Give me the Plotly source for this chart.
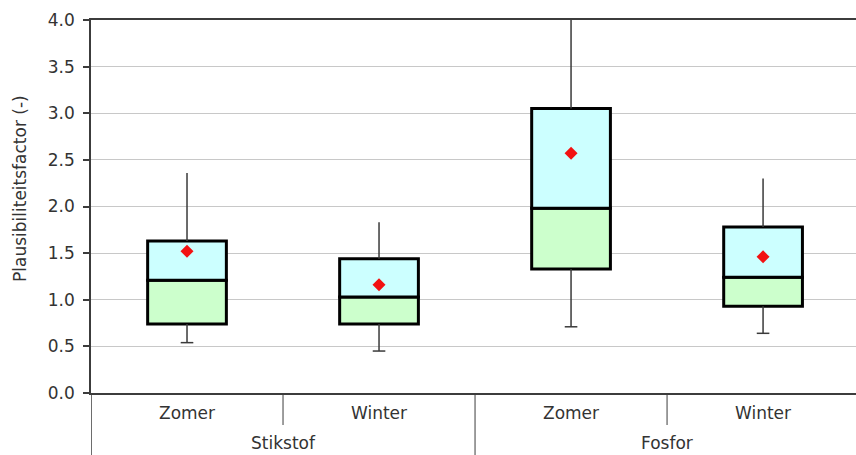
import plotly.graph_objects as go

# Box statistics per nutrient / season
groups = ["Stikstof", "Stikstof", "Fosfor", "Fosfor"]
seasons = ["Zomer", "Winter", "Zomer", "Winter"]
lower = [0.54, 0.45, 0.71, 0.64]
q1 = [0.74, 0.74, 1.33, 0.93]
median = [1.21, 1.03, 1.98, 1.24]
q3 = [1.63, 1.44, 3.05, 1.78]
upper = [2.36, 1.83, 4.00, 2.30]
mean = [1.52, 1.16, 2.57, 1.46]

group_names = ["Stikstof", "Fosfor"]
y_ticks = [0.0, 0.5, 1.0, 1.5, 2.0, 2.5, 3.0, 3.5, 4.0]

FONT = "DejaVu Sans, Verdana, sans-serif"
FS = 17
TEXT = "#333333"
AXIS = "#3c3c3c"
WHISK = "#3a3a3a"

x_cat = [groups, seasons]
box_w = 0.41
PLOT_H = 373  # plot area height in px, used to place things below the axis

fig = go.Figure()

# lower half of the box: Q1 .. median
fig.add_trace(go.Bar(
    x=x_cat, base=q1, y=[m - a for m, a in zip(median, q1)],
    width=box_w, marker=dict(color="#ccffcc", line=dict(color="black", width=3)),
    showlegend=False, hoverinfo="skip",
))
# upper half of the box: median .. Q3
fig.add_trace(go.Bar(
    x=x_cat, base=median, y=[b - m for b, m in zip(q3, median)],
    width=box_w, marker=dict(color="#ccffff", line=dict(color="black", width=3)),
    showlegend=False, hoverinfo="skip",
))

# whiskers
for g, s, lo, a, b, hi in zip(groups, seasons, lower, q1, q3, upper):
    fig.add_trace(go.Scatter(
        x=[[g, g], [s, s]], y=[b, hi], mode="lines",
        line=dict(color=WHISK, width=1.5), showlegend=False, hoverinfo="skip",
    ))
    fig.add_trace(go.Scatter(
        x=[[g, g], [s, s]], y=[a, lo], mode="lines",
        line=dict(color=WHISK, width=1.5), showlegend=False, hoverinfo="skip",
    ))

# caps at the lower whisker ends
fig.add_trace(go.Scatter(
    x=x_cat, y=lower, mode="markers",
    marker=dict(symbol="line-ew", size=9, line=dict(color=WHISK, width=1.5)),
    showlegend=False, hoverinfo="skip",
))

# means
fig.add_trace(go.Scatter(
    x=x_cat, y=mean, mode="markers",
    marker=dict(symbol="diamond", size=10, color="#f21212", line=dict(width=0)),
    showlegend=False,
))

# category dividers below the axis
shapes = [
    dict(type="line", xref="x", yref="paper", x0=-0.5, x1=-0.5, y0=0, y1=-62 / PLOT_H,
         line=dict(color=AXIS, width=1.5)),
    dict(type="line", xref="x", yref="paper", x0=1.5, x1=1.5, y0=0, y1=-62 / PLOT_H,
         line=dict(color=AXIS, width=1)),
    dict(type="line", xref="x", yref="paper", x0=0.5, x1=0.5, y0=0, y1=-32 / PLOT_H,
         line=dict(color=AXIS, width=1)),
    dict(type="line", xref="x", yref="paper", x0=2.5, x1=2.5, y0=0, y1=-32 / PLOT_H,
         line=dict(color=AXIS, width=1)),
]

# two-level category labels
annotations = []
for i, s in enumerate(seasons):
    annotations.append(dict(
        text=s, xref="x", yref="paper", x=i, y=-20 / PLOT_H,
        xanchor="center", yanchor="middle", showarrow=False,
        font=dict(family=FONT, size=FS, color=TEXT),
    ))
for j, g in enumerate(group_names):
    annotations.append(dict(
        text=g, xref="x", yref="paper", x=2 * j + 0.5, y=-50 / PLOT_H,
        xanchor="center", yanchor="middle", showarrow=False,
        font=dict(family=FONT, size=FS, color=TEXT),
    ))
annotations.append(dict(
    text="Plausibiliteitsfactor (-)", textangle=-90,
    xref="paper", yref="paper", x=-71 / 765, y=0.547,
    xanchor="center", yanchor="middle", showarrow=False,
    font=dict(family=FONT, size=FS, color=TEXT),
))

fig.update_layout(
    width=856, height=455,
    margin=dict(l=91, r=0, t=20, b=62),
    paper_bgcolor="white", plot_bgcolor="white",
    barmode="overlay",
    font=dict(family=FONT, size=FS, color=TEXT),
    shapes=shapes,
    annotations=annotations,
)

fig.update_xaxes(
    type="multicategory", range=[-0.5, 3.484],
    showline=True, linecolor=AXIS, linewidth=1.5, mirror=True,
    showgrid=False, ticks="", showdividers=False, showticklabels=False,
)
fig.update_yaxes(
    range=[0, 4], tickvals=y_ticks, ticktext=[f"{v:.1f}" for v in y_ticks],
    showgrid=True, gridcolor="#c8c8c8", gridwidth=1,
    showline=True, linecolor=AXIS, linewidth=1.5,
    ticks="outside", ticklen=6, tickcolor=AXIS, tickwidth=1.5,
    ticklabelstandoff=5,
    zeroline=False,
    tickfont=dict(family=FONT, size=FS, color=TEXT),
)

fig.write_html("out.html")
